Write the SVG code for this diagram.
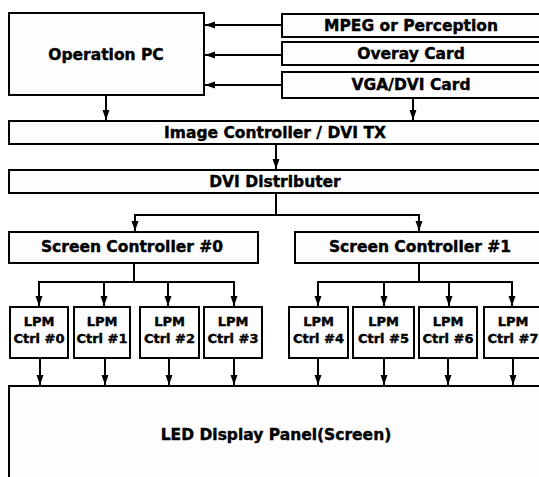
<svg xmlns="http://www.w3.org/2000/svg" width="539" height="477" viewBox="0 0 539 477">
<defs>
<marker id="ah" markerUnits="userSpaceOnUse" markerWidth="10" markerHeight="10" viewBox="0 0 10 10" refX="10" refY="5" orient="auto">
<path d="M0,1.5 L10,5 L0,8.5 Z" fill="#000"/>
</marker>
<style>
.b{fill:#fdfdfd;stroke:#000;stroke-width:2}
.t{font-family:"DejaVu Sans","Liberation Sans",sans-serif;font-weight:bold;font-size:15.5px;text-anchor:middle;fill:#000;stroke:#000;stroke-width:0.4}
.s{font-size:13px}
.c{fill:none;stroke:#000;stroke-width:2}
.a{marker-end:url(#ah)}
</style>
</defs>
<rect width="539" height="477" fill="#fff"/>
<g id="operation-pc"><rect class="b" x="9" y="13" width="195" height="82"/><text class="t" x="106" y="60">Operation PC</text></g>
<g id="mpeg"><rect class="b" x="282" y="14" width="270" height="23"/><text class="t" x="411" y="31">MPEG or Perception</text></g>
<g id="overay"><rect class="b" x="282" y="42" width="270" height="23"/><text class="t" x="411" y="59">Overay Card</text></g>
<g id="vga"><rect class="b" x="282" y="72" width="270" height="26"/><text class="t" x="411" y="90">VGA/DVI Card</text></g>
<g id="image-controller"><rect class="b" x="9" y="121" width="545" height="23"/><text class="t" x="275" y="138">Image Controller / DVI TX</text></g>
<g id="dvi-distributer"><rect class="b" x="9" y="170" width="545" height="23"/><text class="t" x="275" y="187">DVI Distributer</text></g>
<g id="sc0"><rect class="b" x="9" y="232" width="249" height="31"/><text class="t" x="132" y="252">Screen Controller #0</text></g>
<g id="sc1"><rect class="b" x="295" y="232" width="260" height="31"/><text class="t" x="420" y="252">Screen Controller #1</text></g>
<g id="lpm0"><rect class="b" x="10" y="307" width="58" height="51"/><text class="t s" x="39" y="326">LPM</text><text class="t s" x="39" y="343">Ctrl #0</text></g>
<g id="lpm1"><rect class="b" x="74" y="307" width="56" height="51"/><text class="t s" x="102" y="326">LPM</text><text class="t s" x="102" y="343">Ctrl #1</text></g>
<g id="lpm2"><rect class="b" x="140" y="307" width="59" height="51"/><text class="t s" x="169.5" y="326">LPM</text><text class="t s" x="169.5" y="343">Ctrl #2</text></g>
<g id="lpm3"><rect class="b" x="204" y="307" width="58" height="51"/><text class="t s" x="233" y="326">LPM</text><text class="t s" x="233" y="343">Ctrl #3</text></g>
<g id="lpm4"><rect class="b" x="289" y="307" width="59" height="51"/><text class="t s" x="318.5" y="326">LPM</text><text class="t s" x="318.5" y="343">Ctrl #4</text></g>
<g id="lpm5"><rect class="b" x="353" y="307" width="61" height="51"/><text class="t s" x="383.5" y="326">LPM</text><text class="t s" x="383.5" y="343">Ctrl #5</text></g>
<g id="lpm6"><rect class="b" x="419" y="307" width="58" height="51"/><text class="t s" x="448" y="326">LPM</text><text class="t s" x="448" y="343">Ctrl #6</text></g>
<g id="lpm7"><rect class="b" x="484" y="307" width="70" height="51"/><text class="t s" x="513" y="326">LPM</text><text class="t s" x="513" y="343">Ctrl #7</text></g>
<g id="led-panel"><rect class="b" x="9" y="386" width="560" height="100"/><text class="t" x="276" y="440">LED Display Panel(Screen)</text></g>
<g id="connectors">
<line class="c a" x1="282" y1="25" x2="205" y2="25"/>
<line class="c a" x1="282" y1="55" x2="205" y2="55"/>
<line class="c a" x1="282" y1="85" x2="205" y2="85"/>
<line class="c a" x1="106" y1="96" x2="106" y2="120"/>
<line class="c a" x1="413" y1="99" x2="413" y2="120"/>
<line class="c a" x1="276" y1="145" x2="276" y2="169"/>
<polyline class="c" points="276,194 276,215"/>
<line class="c" x1="134" y1="215" x2="420" y2="215"/>
<line class="c a" x1="135" y1="215" x2="135" y2="231"/>
<line class="c a" x1="419" y1="215" x2="419" y2="231"/>
<line class="c" x1="134" y1="264" x2="134" y2="282"/>
<line class="c" x1="38" y1="282" x2="235" y2="282"/>
<line class="c a" x1="39" y1="282" x2="39" y2="306"/>
<line class="c a" x1="104" y1="282" x2="104" y2="306"/>
<line class="c a" x1="168" y1="282" x2="168" y2="306"/>
<line class="c a" x1="234" y1="282" x2="234" y2="306"/>
<line class="c" x1="419" y1="264" x2="419" y2="282"/>
<line class="c" x1="317" y1="282" x2="513" y2="282"/>
<line class="c a" x1="318" y1="282" x2="318" y2="306"/>
<line class="c a" x1="384" y1="282" x2="384" y2="306"/>
<line class="c a" x1="449" y1="282" x2="449" y2="306"/>
<line class="c a" x1="512" y1="282" x2="512" y2="306"/>
<line class="c a" x1="40" y1="359" x2="40" y2="385"/>
<line class="c a" x1="105" y1="359" x2="105" y2="385"/>
<line class="c a" x1="169" y1="359" x2="169" y2="385"/>
<line class="c a" x1="234" y1="359" x2="234" y2="385"/>
<line class="c a" x1="318" y1="359" x2="318" y2="385"/>
<line class="c a" x1="384" y1="359" x2="384" y2="385"/>
<line class="c a" x1="448" y1="359" x2="448" y2="385"/>
<line class="c a" x1="513" y1="359" x2="513" y2="385"/>
</g>
</svg>
